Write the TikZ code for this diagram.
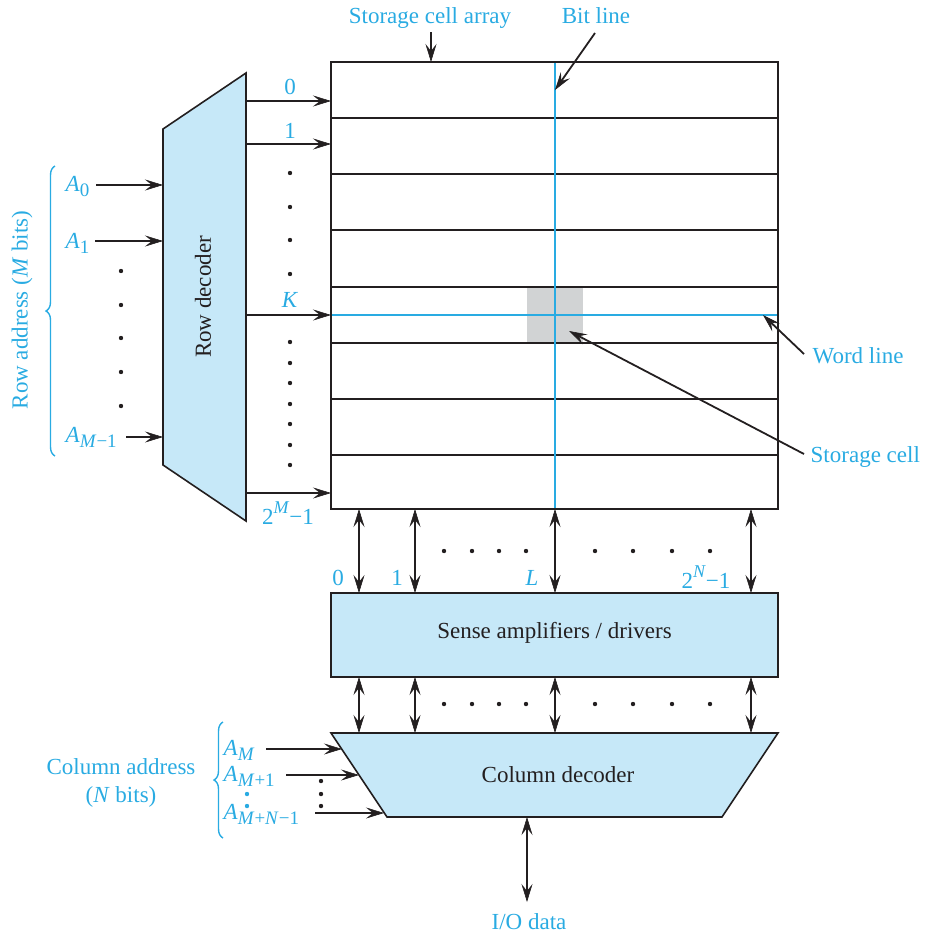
\documentclass[tikz,border=0pt]{standalone}
\usepackage{fontspec}
\setmainfont{Liberation Serif}
\usetikzlibrary{arrows.meta,decorations.pathreplacing}
\definecolor{lblue}{HTML}{29ABE2}
\definecolor{fillb}{HTML}{C6E8F8}
\definecolor{cellg}{HTML}{D1D3D4}
\definecolor{ink}{HTML}{231F20}
\newcommand{\sbx}[1]{\raisebox{-0.22em}{\fontsize{19}{22}\selectfont #1}}
\newcommand{\spx}[1]{\raisebox{0.45em}{\fontsize{18}{21}\selectfont #1}}
\tikzset{
  tipa/.tip={Stealth[length=18pt,width=11pt,inset=7pt,line width=0.6pt]},
  arr/.style={draw=ink,line width=1.8pt,-tipa},
  darr/.style={draw=ink,line width=1.8pt,tipa-tipa},
  ptr/.style={draw=ink,line width=1.8pt,-tipa},
  lab/.style={text=lblue,font=\fontsize{23}{27}\selectfont,inner sep=0pt},
  blk/.style={text=ink,font=\fontsize{23}{27}\selectfont,inner sep=0pt},
  dotb/.style={fill=ink},
  dotc/.style={fill=lblue},
  brc/.style={draw=lblue,line width=1.4pt,decorate,decoration={brace,amplitude=9pt}},
}
\begin{document}
\begin{tikzpicture}[x=1pt,y=-1pt,line width=1.4pt]
\useasboundingbox (0,0) rectangle (925,935);
% storage cell array
\fill[cellg] (527,287) rectangle (583,343);
\foreach \y in {118,174,230,287,343,399,455} \draw[ink] (331,\y) -- (778,\y);
\draw[lblue] (331,315) -- (778,315);
\draw[lblue] (555,62) -- (555,509);
\draw[ink,line width=1.8pt] (331,62) rectangle (778,509);
\coordinate (arrtop) at (431,62);
\coordinate (bitpt) at (555,90);
\coordinate (wordpt) at (763,315);
\coordinate (cellpt) at (569,331);
% row decoder
\draw[ink,fill=fillb,line width=1.6pt] (163,129) -- (246,73) -- (246,521) -- (163,465) -- cycle;
\node[blk,rotate=90] (rowdec) at (203,297) {Row decoder};
% row outputs
\foreach \y/\n in {101/a,144/b,315/k,493/z}{
  \coordinate (ro\n) at (246,\y);
  \coordinate (ri\n) at (331,\y);
  \draw[arr] (ro\n) -- (ri\n);
}
\node[lab] (lr0) at (290,87) {0};
\node[lab] (lr1) at (290,131) {1};
\node[lab] (lrk) at (290,300) {\textit{K}};
\node[lab] (lrz) at (288,513) {2\spx{\textit{M}}−1};
\foreach \y in {173,207,240,274,342,363,383,404,424,445,465} \fill[dotb] (290,\y) circle (2.2);
% row inputs
\node[lab,anchor=base west] (a0) at (65,191) {\textit{A}\sbx{0}};
\node[lab,anchor=base west] (a1) at (65,248) {\textit{A}\sbx{1}};
\node[lab,anchor=base west] (am) at (65,442) {\textit{A}\sbx{\textit{M}−1}};
\coordinate (da0) at (163,185);
\coordinate (da1) at (163,241);
\coordinate (dam) at (163,437);
\draw[arr] (96,185) coordinate (sa0) -- (da0);
\draw[arr] (95,241) coordinate (sa1) -- (da1);
\draw[arr] (126,437) coordinate (sam) -- (dam);
\foreach \y in {271,305,338,372,406} \fill[dotb] (121,\y) circle (2.2);
\draw[brc] (55,456) -- (55,166);
\node[lab,rotate=90] (rowaddr) at (22,310) {Row address (\textit{M} bits)};
% top labels
\node[lab] (sca) at (430,18) {Storage cell array};
\node[lab] (bl) at (596,16) {Bit line};
\coordinate (scas) at (431,32);
\draw[ptr] (scas) -- (arrtop);
\coordinate (bls) at (595,33);
\draw[ptr] (bls) -- (bitpt);
\node[lab,anchor=west] (wl) at (812,356) {Word line};
\node[lab,anchor=west] (sc) at (810,457) {Storage cell};
\coordinate (wls) at (804,354);
\draw[ptr] (wls) -- (wordpt);
\coordinate (scs) at (804,454);
\draw[ptr] (scs) -- (cellpt);
% sense amplifiers
\node[draw=ink,fill=fillb,minimum width=447pt,minimum height=84pt,inner sep=0pt,line width=1.6pt] (sa) at (554.5,635) {};
\node[blk] (satext) at (554.5,633) {Sense amplifiers / drivers};
% column decoder
\draw[ink,fill=fillb,line width=1.6pt] (331,733) -- (778,733) -- (722,817) -- (387,817) -- cycle;
\node[blk] (cd) at (558,775) {Column decoder};
% bus arrows
\foreach \x in {359,415,555,751}{
  \coordinate (bt\x) at (\x,509);
  \coordinate (st\x) at (\x,593);
  \coordinate (sb\x) at (\x,677);
  \coordinate (ct\x) at (\x,733);
  \draw[darr] (bt\x) -- (st\x);
  \draw[darr] (sb\x) -- (ct\x);
}
\foreach \x in {444,472,499,526,595,633,672,710}{
  \fill[dotb] (\x,551) circle (2.2);
  \fill[dotb] (\x,704) circle (2.2);
}
\node[lab] (c0) at (338,578) {0};
\node[lab] (c1) at (397,578) {1};
\node[lab] (cl) at (532,578) {\textit{L}};
\node[lab] (cz) at (706,577) {2\spx{\textit{N}}−1};
% column inputs
\node[lab,anchor=base west] (bm) at (223,755) {\textit{A}\sbx{\textit{M}}};
\node[lab,anchor=base west] (bm1) at (223,781) {\textit{A}\sbx{\textit{M}+1}};
\node[lab,anchor=base west] (bmn) at (223,819) {\textit{A}\sbx{\textit{M}+\textit{N}−1}};
\coordinate (cbm) at (342,749);
\coordinate (cbm1) at (359,775);
\coordinate (cbmn) at (384,813);
\draw[arr] (266,749) coordinate (sbm) -- (cbm);
\draw[arr] (286,775) coordinate (sbm1) -- (cbm1);
\draw[arr] (315,813) coordinate (sbmn) -- (cbmn);
\foreach \y in {781,794,806} \fill[dotb] (321,\y) circle (2.2);
\foreach \y in {794,806} \fill[dotc] (247,\y) circle (2.2);
\draw[brc] (223,838) -- (223,722);
\node[lab] (caddr) at (121,767) {Column address};
\node[lab] (cbits) at (121,797) {(\textit{N} bits)};
% I/O
\coordinate (iot) at (527,817);
\coordinate (iob) at (527,902);
\draw[darr] (iot) -- (iob);
\node[lab] (io) at (529,922) {I/O data};
\end{tikzpicture}
\end{document}
